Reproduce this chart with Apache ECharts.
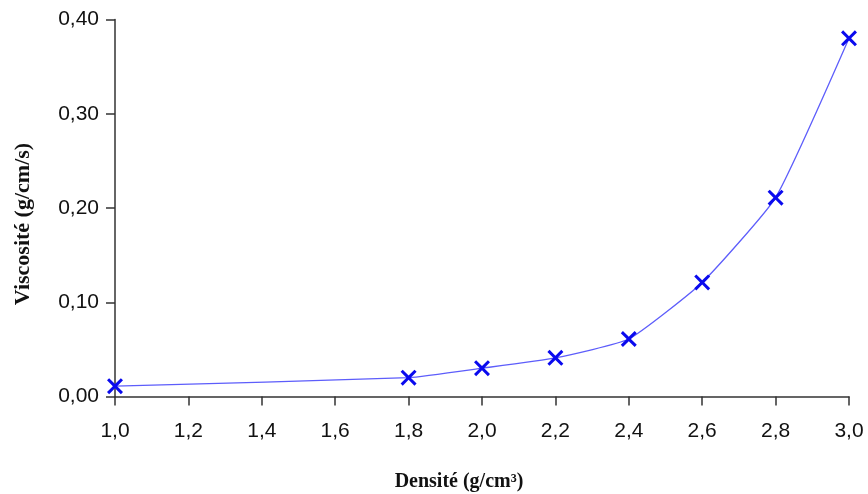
<!DOCTYPE html>
<html>
<head>
<meta charset="utf-8">
<script src="https://cdn.jsdelivr.net/npm/echarts@6/dist/echarts.min.js"></script>
<style>html,body{margin:0;padding:0;background:#fff}#c{width:868px;height:494px}</style>
</head>
<body>
<div id="c"></div>
<script>
const densite = [1.0, 1.8, 2.0, 2.2, 2.4, 2.6, 2.8, 3.0];
const viscosite = [0.011, 0.020, 0.030, 0.041, 0.061, 0.121, 0.211, 0.380];
const xTitle = 'Densité (g/cm³)';
const yTitle = 'Viscosité (g/cm/s)';

const chart = echarts.init(document.getElementById('c'), null, {renderer: 'canvas'});
const xSym = 'path://M0,1.6L1.6,0L6,4.4L10.4,0L12,1.6L7.6,6L12,10.4L10.4,12L6,7.6L1.6,12L0,10.4L4.4,6Z';
const axisCol = '#333';
chart.setOption({
  animation: false,
  grid: {left: 115, right: 19, top: 19.5, bottom: 97.5, containLabel: false, outerBoundsMode: 'none'},
  xAxis: {
    type: 'value', min: 1.0, max: 3.0, interval: 0.2,
    name: xTitle, nameLocation: 'middle', nameGap: 75,
    nameTextStyle: {fontFamily: 'Liberation Serif', fontWeight: 'bold', fontSize: 20, color: '#111', padding: [0, 46, 0, 0]},
    axisLine: {show: true, lineStyle: {color: axisCol, width: 1.5}},
    axisTick: {show: true, length: 9, lineStyle: {color: axisCol, width: 1.5}},
    splitLine: {show: false},
    axisLabel: {margin: 24, fontFamily: 'Liberation Sans', fontSize: 21, color: '#111',
      formatter: v => v.toFixed(1).replace('.', ',')}
  },
  yAxis: {
    type: 'value', min: 0, max: 0.4, interval: 0.1,
    name: yTitle, nameLocation: 'middle', nameGap: 81, nameRotate: 90,
    nameTextStyle: {fontFamily: 'Liberation Serif', fontWeight: 'bold', fontSize: 22, color: '#111', padding: [0, 32, 0, 0]},
    axisLine: {show: true, lineStyle: {color: axisCol, width: 1.5}},
    axisTick: {show: true, length: 9, lineStyle: {color: axisCol, width: 1.5}},
    splitLine: {show: false},
    axisLabel: {margin: 16, fontFamily: 'Liberation Sans', fontSize: 21, color: '#111',
      formatter: v => v.toFixed(2).replace('.', ',')}
  },
  series: [{
    type: 'line',
    data: densite.map((d, i) => [d, viscosite[i]]),
    smooth: 0.15,
    symbol: xSym, symbolSize: 16,
    lineStyle: {color: '#5d5dfb', width: 1.3},
    itemStyle: {color: '#0a0aee'},
    clip: false
  }]
});
</script>
</body>
</html>
